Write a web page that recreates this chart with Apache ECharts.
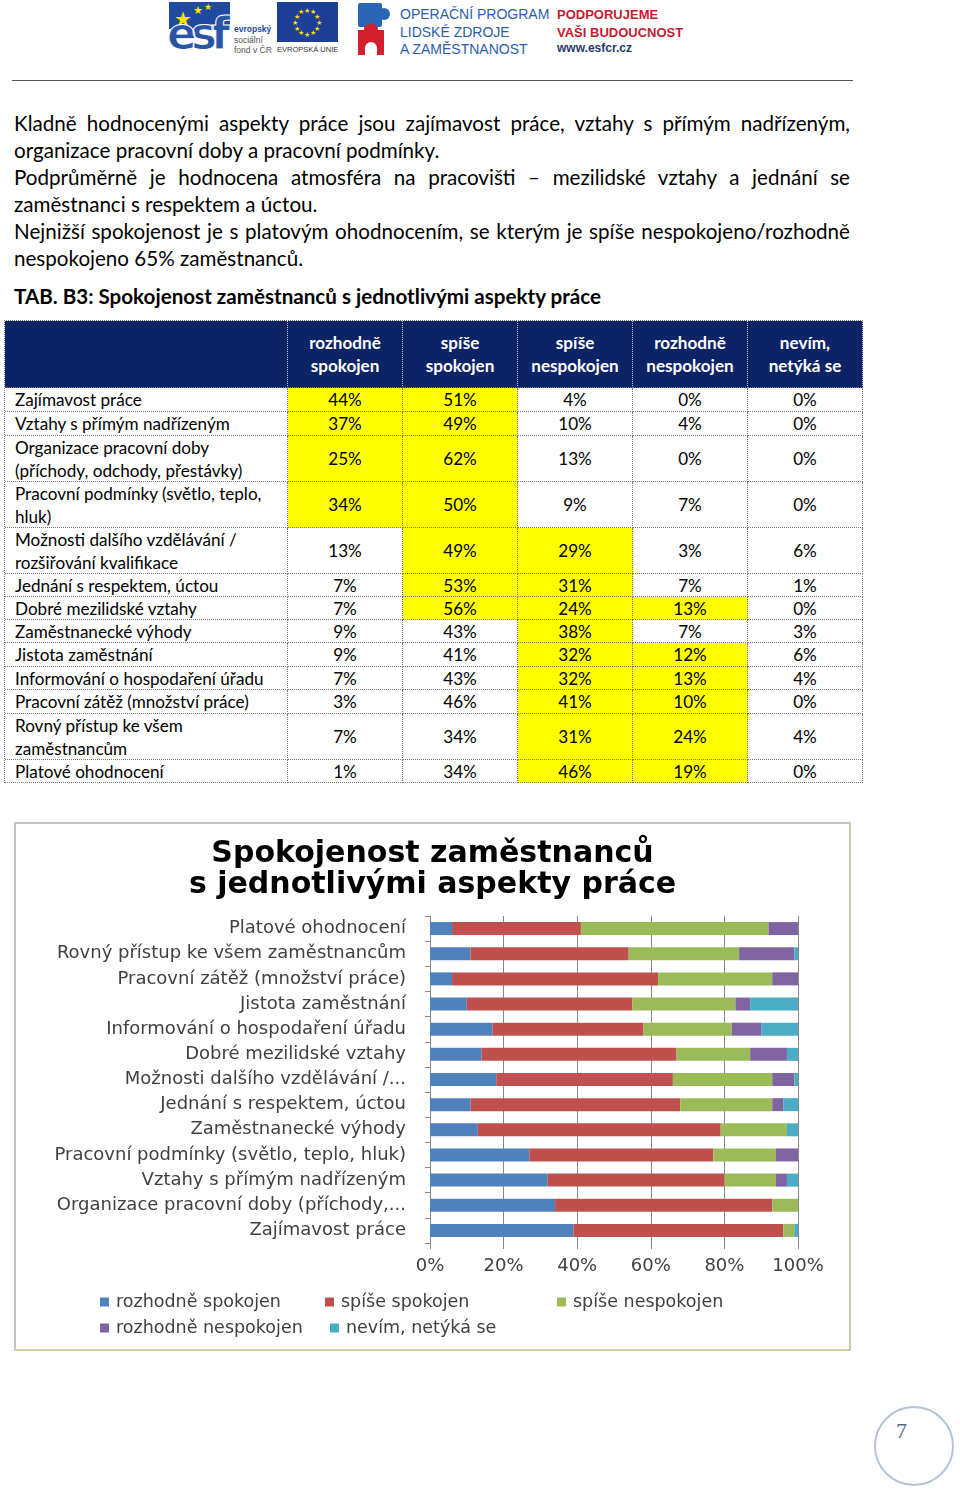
<!DOCTYPE html>
<html><head><meta charset="utf-8">
<script src="https://cdn.jsdelivr.net/npm/echarts@6/dist/echarts.min.js"></script>
<style>
html,body{margin:0;padding:0;background:#fff;}
#page{position:relative;width:960px;height:1489px;overflow:hidden;font-family:Lato,"Noto Sans",sans-serif;color:#000;}
.abs{position:absolute;}
.pline{position:absolute;left:14px;width:836px;height:27px;line-height:27px;font-size:20.6px;white-space:nowrap;}
.just{text-align:justify;text-align-last:justify;white-space:normal;overflow:hidden;}
.cell{position:absolute;box-sizing:border-box;border-right:1px dotted #7a7a7a;border-bottom:1px dotted #7a7a7a;display:flex;align-items:center;font-size:17.1px;line-height:23px;}
.hcell{background:#0c2466;color:#fff;font-weight:bold;justify-content:center;text-align:center;border-right:1px dotted #c8cbd8;border-bottom:1px dotted #7a7a7a;}
.vcell{justify-content:center;}
.lcell{padding-left:10px;white-space:pre-line;}
</style></head><body><div id="page">

<!-- header logos -->
<div class="abs" style="left:169px;top:2px;width:61px;height:27px;background:#2049a0;"></div>
<div class="abs" style="left:174px;top:8px;color:#ffe300;font-size:20px;line-height:20px;">★</div>
<div class="abs" style="left:193px;top:4px;color:#ffe300;font-size:11px;line-height:11px;">★</div>
<div class="abs" style="left:204px;top:2px;color:#ffe300;font-size:9px;line-height:9px;">★</div>
<div class="abs" style="left:167px;top:12px;font:bold 44px/44px 'DejaVu Sans';color:#2a54a6;letter-spacing:-6px;-webkit-text-stroke:1px #fff;">esf</div>
<div class="abs" style="left:234px;top:24px;font:bold 8.5px/10px 'Liberation Sans';color:#24479a;">evropský</div>
<div class="abs" style="left:234px;top:35px;font:8.5px/10px 'Liberation Sans';color:#555;">sociální</div>
<div class="abs" style="left:234px;top:45px;font:8.5px/10px 'Liberation Sans';color:#555;">fond v ČR</div>
<div class="abs" id="euflag" style="left:277px;top:2px;width:61px;height:40px;background:#1d3f96;"></div>
<div class="abs" style="left:277px;top:45px;font:7.5px/10px 'Liberation Sans';color:#333;">EVROPSKÁ UNIE</div>
<div class="abs" style="left:358px;top:3px;width:24px;height:24px;background:#2a66b3;border-radius:2px;"></div>
<div class="abs" style="left:378px;top:8px;width:12px;height:12px;background:#2a66b3;border-radius:50%;"></div>
<div class="abs" style="left:358px;top:30px;width:26px;height:25px;background:#d21f2b;"></div>
<div class="abs" style="left:365px;top:42px;width:12px;height:14px;background:#fff;border-radius:6px 6px 0 0;"></div>
<div class="abs" style="left:364px;top:24px;width:14px;height:10px;background:#d21f2b;border-radius:50%;"></div>
<div class="abs" style="left:400px;top:6px;font:14px/17.5px 'Liberation Sans';color:#2a5ea9;">OPERAČNÍ PROGRAM<br>LIDSKÉ ZDROJE<br>A ZAMĚSTNANOST</div>
<div class="abs" style="left:557px;top:6px;font:bold 13px/17.5px 'Liberation Sans';color:#c51a30;">PODPORUJEME<br>VAŠI BUDOUCNOST</div>
<div class="abs" style="left:557px;top:41px;font:bold 12px/15px 'Liberation Sans';color:#1f3b70;">www.esfcr.cz</div>
<div class="abs" style="left:12px;top:80px;width:841px;height:1px;background:#555;"></div>

<div id="paras"></div>
<div class="abs" style="left:14px;top:283px;font-weight:bold;font-size:20.6px;line-height:27px;white-space:nowrap;">TAB. B3: Spokojenost zaměstnanců s jednotlivými aspekty práce</div>

<div id="table" class="abs" style="left:4px;top:320px;width:859px;height:463px;border-left:1px dotted #7a7a7a;border-top:1px dotted #7a7a7a;box-sizing:border-box;"></div>

<div class="abs" style="left:14px;top:822px;width:837px;height:529px;box-sizing:border-box;border:2px solid #c4c4c4;border-bottom-color:#cfcf9a;border-right-color:#c9c9b0;">
  <div id="chart" style="width:833px;height:525px;"></div>
</div>

<div class="abs" style="left:874px;top:1406px;width:80px;height:80px;box-sizing:border-box;border:2px solid #b3c2d6;border-radius:50%;"></div>
<div class="abs" style="left:896px;top:1419px;font:22px/24px 'Liberation Serif';color:#4f6a88;">7</div>

</div>
<script>
// ---------- text ----------
const paragraphLines = [
  ["Kladně hodnocenými aspekty práce jsou zajímavost práce, vztahy s přímým nadřízeným,", true],
  ["organizace pracovní doby a pracovní podmínky.", false],
  ["Podprůměrně je hodnocena atmosféra na pracovišti – mezilidské vztahy a jednání se", true],
  ["zaměstnanci s respektem a úctou.", false],
  ["Nejnižší spokojenost je s platovým ohodnocením, se kterým je spíše nespokojeno/rozhodně", true],
  ["nespokojeno 65% zaměstnanců.", false]
];

// ---------- table data ----------
const tableHeaders = ["rozhodně\nspokojen", "spíše\nspokojen", "spíše\nnespokojen", "rozhodně\nnespokojen", "nevím,\nnetýká se"];
const tableRows = [
  "Zajímavost práce",
  "Vztahy s přímým nadřízeným",
  "Organizace pracovní doby\n(příchody, odchody, přestávky)",
  "Pracovní podmínky (světlo, teplo,\nhluk)",
  "Možnosti dalšího vzdělávání /\nrozšiřování kvalifikace",
  "Jednání s respektem, úctou",
  "Dobré mezilidské vztahy",
  "Zaměstnanecké výhody",
  "Jistota zaměstnání",
  "Informování o hospodaření úřadu",
  "Pracovní zátěž (množství práce)",
  "Rovný přístup ke všem\nzaměstnancům",
  "Platové ohodnocení"
];
const tabRozhodneSpokojen   = [44, 37, 25, 34, 13, 7, 7, 9, 9, 7, 3, 7, 1];
const tabSpiseSpokojen      = [51, 49, 62, 50, 49, 53, 56, 43, 41, 43, 46, 34, 34];
const tabSpiseNespokojen    = [4, 10, 13, 9, 29, 31, 24, 38, 32, 32, 41, 31, 46];
const tabRozhodneNespokojen = [0, 4, 0, 7, 3, 7, 13, 7, 12, 13, 10, 24, 19];
const tabNevim              = [0, 0, 0, 0, 6, 1, 0, 3, 6, 4, 0, 4, 0];
const tabHighlighted = [[0,1],[0,1],[0,1],[0,1],[1,2],[1,2],[1,2,3],[2],[2,3],[2,3],[2,3],[2,3],[2,3]];

// ---------- chart data (top to bottom as displayed) ----------
const chartTitleLines = ["Spokojenost zaměstnanců", "s jednotlivými aspekty práce"];
const chartCategories = [
  "Platové ohodnocení",
  "Rovný přístup ke všem zaměstnancům",
  "Pracovní zátěž (množství práce)",
  "Jistota zaměstnání",
  "Informování o hospodaření úřadu",
  "Dobré mezilidské vztahy",
  "Možnosti dalšího vzdělávání /...",
  "Jednání s respektem, úctou",
  "Zaměstnanecké výhody",
  "Pracovní podmínky (světlo, teplo, hluk)",
  "Vztahy s přímým nadřízeným",
  "Organizace pracovní doby (příchody,...",
  "Zajímavost práce"
];
const seriesNames = ["rozhodně spokojen", "spíše spokojen", "spíše nespokojen", "rozhodně nespokojen", "nevím, netýká se"];
const rozhodneSpokojen   = [6, 11, 6, 10, 17, 14, 18, 11, 13, 27, 32, 34, 39];
const spiseSpokojen      = [35, 43, 56, 45, 41, 53, 48, 57, 66, 50, 48, 59, 57];
const spiseNespokojen    = [51, 30, 31, 28, 24, 20, 27, 25, 18, 17, 14, 7, 3];
const rozhodneNespokojen = [8, 15, 7, 4, 8, 10, 6, 3, 0, 6, 3, 0, 0];
const nevim              = [0, 1, 0, 13, 10, 3, 1, 4, 3, 0, 3, 0, 1];
const xTickValues = [0, 20, 40, 60, 80, 100];

// ---------- render text ----------
const paras = document.getElementById('paras');
paragraphLines.forEach((l, i) => {
  const d = document.createElement('div');
  d.className = 'pline' + (l[1] ? ' just' : '');
  d.style.top = (110 + i * 27) + 'px';
  d.textContent = l[0];
  paras.appendChild(d);
});

// EU flag stars
const flag = document.getElementById('euflag');
for (let k = 0; k < 12; k++) {
  const a = k / 12 * 2 * Math.PI;
  const s = document.createElement('div');
  s.className = 'abs';
  s.style.cssText = 'color:#ffdd00;font-size:7px;line-height:7px;';
  s.style.left = (30.5 + 12 * Math.sin(a) - 3.5) + 'px';
  s.style.top = (20 - 12 * Math.cos(a) - 3.5) + 'px';
  s.textContent = '★';
  flag.appendChild(s);
}

// ---------- render table ----------
const table = document.getElementById('table');
const colW = [284, 115, 115, 115, 115, 115];
const headH = 67;
const rowH = [24, 24, 46, 46, 46, 23, 23, 23, 24, 23, 24, 46, 23];
const tabCols = [tabRozhodneSpokojen, tabSpiseSpokojen, tabSpiseNespokojen, tabRozhodneNespokojen, tabNevim];
function addCell(x, y, w, h, cls, text, bg) {
  const c = document.createElement('div');
  c.className = 'cell ' + cls;
  c.style.left = x + 'px'; c.style.top = y + 'px';
  c.style.width = w + 'px'; c.style.height = h + 'px';
  if (bg) c.style.background = bg;
  c.textContent = text;
  if (cls.indexOf('hcell') >= 0) c.style.whiteSpace = 'pre-line';
  table.appendChild(c);
}
let x = 0;
addCell(0, 0, colW[0] - 1, headH, 'hcell', '');
x = colW[0] - 1;
tableHeaders.forEach((h, j) => { addCell(x, 0, colW[j + 1], headH, 'hcell', h); x += colW[j + 1]; });
let y = headH;
tableRows.forEach((r, i) => {
  addCell(0, y, colW[0] - 1, rowH[i], 'lcell', r);
  let cx = colW[0] - 1;
  tabCols.forEach((col, j) => {
    const hl = tabHighlighted[i].indexOf(j) >= 0;
    addCell(cx, y, colW[j + 1], rowH[i], 'vcell', col[i] + '%', hl ? '#ffff00' : null);
    cx += colW[j + 1];
  });
  y += rowH[i];
});

// ---------- chart ----------
const colors = ['#4F81BD', '#C0504D', '#9BBB59', '#8064A2', '#4BACC6'];
const chartSeriesValues = [rozhodneSpokojen, spiseSpokojen, spiseNespokojen, rozhodneNespokojen, nevim];
const legendPos = [[84, 469], [309, 469], [541, 469], [84, 495], [314, 495]];
const txt = { fontFamily: 'DejaVu Sans', fontSize: 18, color: '#404040' };
const chart = echarts.init(document.getElementById('chart'), null, { renderer: 'canvas' });
chart.setOption({
  animation: false,
  color: colors,
  title: chartTitleLines.map((t, i) => ({
    text: t, left: 'center', top: 10 + i * 31,
    textStyle: { fontFamily: 'DejaVu Sans', fontWeight: 'bold', fontSize: 30, color: '#000' }
  })),
  legend: seriesNames.map((n, i) => ({
    data: [n], left: legendPos[i][0], top: legendPos[i][1], padding: 0,
    icon: 'rect', itemWidth: 9, itemHeight: 9, itemGap: 0, selectedMode: false,
    textStyle: Object.assign({}, txt, { fontSize: 17.5, padding: [0, 0, 0, 2] })
  })),
  grid: { left: 414, right: 51, top: 92, bottom: 106 },
  xAxis: {
    type: 'value', min: 0, max: 100, interval: 20,
    axisLabel: Object.assign({ formatter: v => xTickValues.indexOf(v) >= 0 ? v + '%' : '', margin: 14 }, txt),
    splitLine: { lineStyle: { color: '#878787', width: 1 } },
    axisLine: { show: false },
    axisTick: { show: true, length: 6, lineStyle: { color: '#878787' } }
  },
  yAxis: {
    type: 'category', data: chartCategories, inverse: true,
    axisLine: { lineStyle: { color: '#878787' } },
    axisTick: { show: true, length: 5, lineStyle: { color: '#878787' } },
    axisLabel: Object.assign({ margin: 24 }, txt)
  },
  series: seriesNames.map((n, i) => ({
    name: n, type: 'bar', stack: 'total', barWidth: 13,
    data: chartSeriesValues[i],
    itemStyle: { color: colors[i] }
  }))
});
</script>
</body></html>
